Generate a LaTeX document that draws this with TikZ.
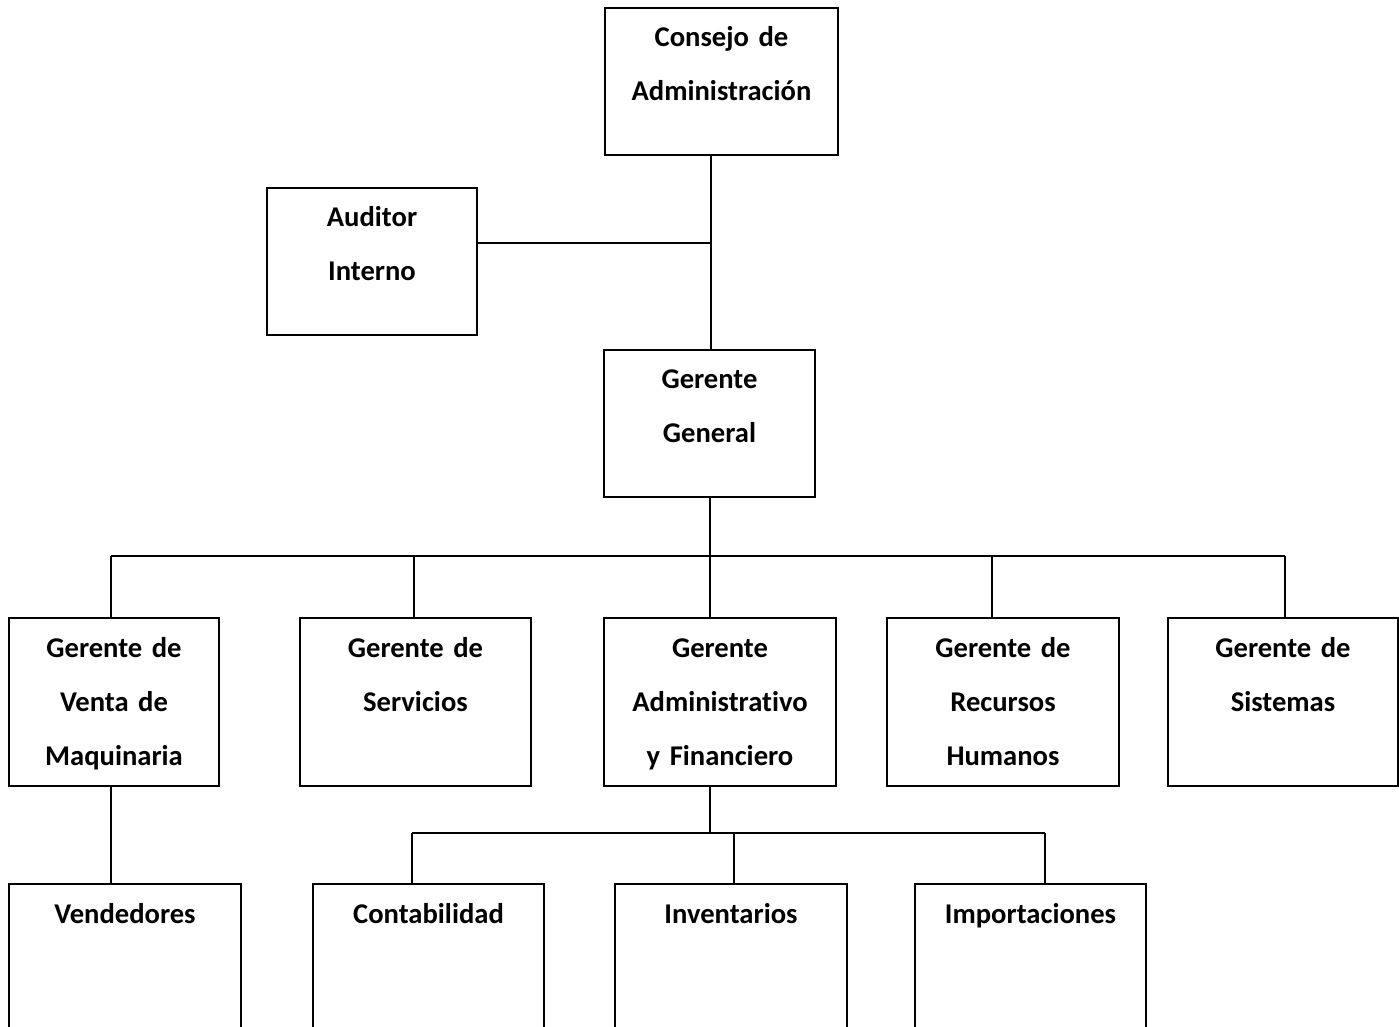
\documentclass[tikz,border=0pt]{standalone}
\usepackage{fontspec}
\setmainfont{Carlito}[Ligatures=CommonOff]
\usetikzlibrary{fit}
\tikzset{
  orgbox/.style={draw, rectangle, inner sep=0pt, line width=1pt},
  orgtxt/.style={anchor=base, inner sep=0pt, text width=120pt, align=center,
    font=\bfseries\fontsize{14.3}{27}\selectfont},
  conn/.style={line width=1pt}
}
\begin{document}
\begin{tikzpicture}[x=0.5pt,y=-0.5pt]
\clip (0,0) rectangle (1399,1027);
\fill[white] (0,0) rectangle (1399,1027);
% boxes
\node[orgbox, fit={(605,8) (838,155)}] (cons) {};
\node[orgbox, fit={(267,188) (477,335)}] (aud) {};
\node[orgbox, fit={(604,350) (815,497)}] (gg) {};
\node[orgbox, fit={(9,618) (219,786)}] (g1) {};
\node[orgbox, fit={(300,618) (531,786)}] (g2) {};
\node[orgbox, fit={(604,618) (836,786)}] (g3) {};
\node[orgbox, fit={(887,618) (1119,786)}] (g4) {};
\node[orgbox, fit={(1168,618) (1398,786)}] (g5) {};
\node[orgbox, fit={(9,884) (241,1100)}] (ven) {};
\node[orgbox, fit={(313,884) (544,1100)}] (con) {};
\node[orgbox, fit={(615,884) (847,1100)}] (inv) {};
\node[orgbox, fit={(915,884) (1146,1100)}] (imp) {};
% texts
\node[orgtxt] (cons-t) at ([yshift=-20pt]cons.north) {Consejo de\\Administración};
\node[orgtxt] (aud-t) at ([yshift=-20pt]aud.north) {Auditor\\Interno};
\node[orgtxt] (gg-t) at ([yshift=-20pt]gg.north) {Gerente\\General};
\node[orgtxt] (g1-t) at ([yshift=-20pt]g1.north) {Gerente de\\Venta de\\Maquinaria};
\node[orgtxt] (g2-t) at ([yshift=-20pt]g2.north) {Gerente de\\Servicios};
\node[orgtxt] (g3-t) at ([yshift=-20pt]g3.north) {Gerente\\Administrativo\\y Financiero};
\node[orgtxt] (g4-t) at ([yshift=-20pt]g4.north) {Gerente de\\Recursos\\Humanos};
\node[orgtxt] (g5-t) at ([yshift=-20pt]g5.north) {Gerente de\\Sistemas};
\node[orgtxt] (ven-t) at ([yshift=-20pt]ven.north) {Vendedores};
\node[orgtxt] (con-t) at ([yshift=-20pt]con.north) {Contabilidad};
\node[orgtxt] (inv-t) at ([yshift=-20pt]inv.north) {Inventarios};
\node[orgtxt] (imp-t) at ([yshift=-20pt]imp.north) {Importaciones};
% junction coordinates
\coordinate (j1) at (711,243);
\coordinate (d1) at (111,556);
\coordinate (d2) at (414,556);
\coordinate (d3) at (710,556);
\coordinate (d4) at (992,556);
\coordinate (d5) at (1285,556);
\coordinate (e1) at (412,833);
\coordinate (e2) at (734,833);
\coordinate (e3) at (1045,833);
\coordinate (e0) at (710,833);
% connectors
\draw[conn] (cons.south -| j1) -- (gg.north -| j1);
\draw[conn] (aud.east |- j1) -- (j1);
\draw[conn] (gg.south -| d3) -- (d3);
\draw[conn] (d1) -- (d5);
\draw[conn] (d1) -- (d1 |- g1.north);
\draw[conn] (d2) -- (d2 |- g2.north);
\draw[conn] (d3) -- (d3 |- g3.north);
\draw[conn] (d4) -- (d4 |- g4.north);
\draw[conn] (d5) -- (d5 |- g5.north);
\draw[conn] (d1 |- g1.south) -- (d1 |- ven.north);
\draw[conn] (e0 |- g3.south) -- (e0);
\draw[conn] (e1) -- (e3);
\draw[conn] (e1) -- (e1 |- con.north);
\draw[conn] (e2) -- (e2 |- inv.north);
\draw[conn] (e3) -- (e3 |- imp.north);
\end{tikzpicture}
\end{document}
